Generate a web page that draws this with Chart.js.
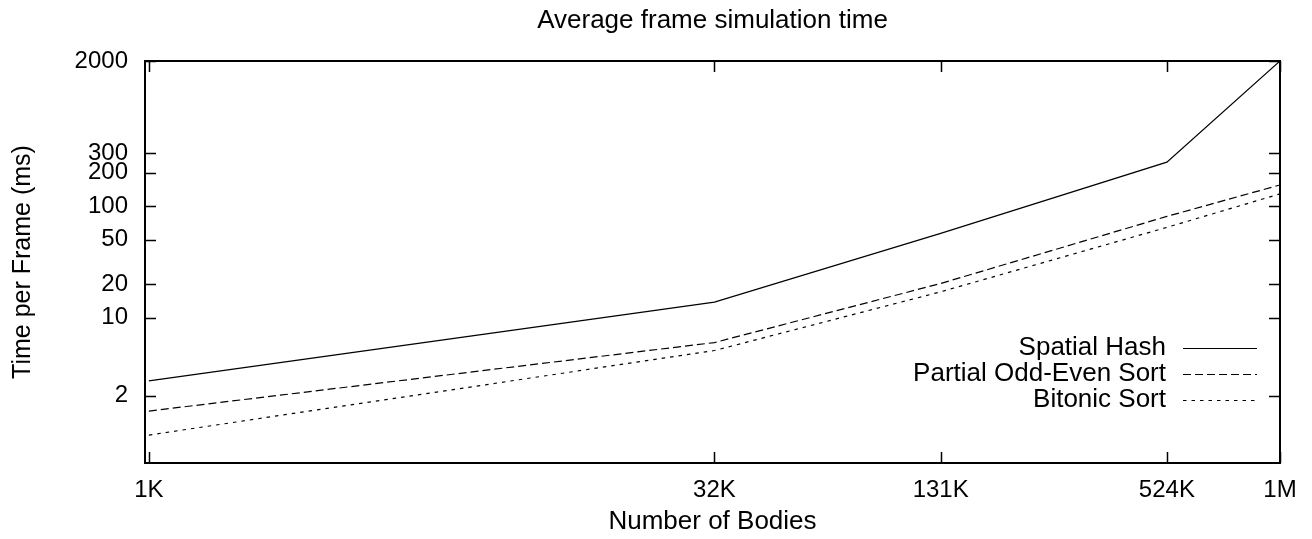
<!DOCTYPE html>
<html>
<head>
<meta charset="utf-8">
<script src="https://cdn.jsdelivr.net/npm/chart.js@4.4.1/dist/chart.umd.min.js"></script>
<style>
  html, body { margin: 0; padding: 0; background: #fff; }
  #wrap { width: 1312px; height: 539px; }
</style>
</head>
<body>
<div id="wrap"><canvas id="c" width="1312" height="539"></canvas></div>
<script>
// ---- data ----
const bodies = [1024, 32768, 131072, 524288, 1048576];
const spatialHash = [2.72, 13.8, 57, 248, 2000];
const partialOddEven = [1.46, 6.0, 20.3, 81, 155];
const bitonicSort = [0.89, 5.09, 17.1, 64.6, 129];
const seriesLabels = ['Spatial Hash', 'Partial Odd-Even Sort', 'Bitonic Sort'];
const xTickValues = [1024, 32768, 131072, 524288, 1048576];
const xTickLabels = ['1K', '32K', '131K', '524K', '1M'];
const yTickValues = [2, 10, 20, 50, 100, 200, 300, 2000];
const yTickLabels = ['2', '10', '20', '50', '100', '200', '300', '2000'];

const FONT = '"Liberation Sans", Arial, Helvetica, sans-serif';

function pts(vals) { return bodies.map((b, i) => ({ x: b, y: vals[i] })); }

const framePlugin = {
  id: 'gnuframe',
  afterDatasetsDraw(chart) {
    const { ctx, chartArea: a, scales: { x, y } } = chart;
    ctx.save();
    ctx.strokeStyle = '#000';
    ctx.lineWidth = 1.5;
    ctx.beginPath();
    x.ticks.forEach(t => {
      const px = Math.round(x.getPixelForValue(t.value)) + 0.5;
      ctx.moveTo(px, a.bottom); ctx.lineTo(px, a.bottom - 11);
      ctx.moveTo(px, a.top); ctx.lineTo(px, a.top + 11);
    });
    y.ticks.forEach(t => {
      const py = Math.round(y.getPixelForValue(t.value)) + 0.5;
      ctx.moveTo(a.left, py); ctx.lineTo(a.left + 11, py);
      ctx.moveTo(a.right, py); ctx.lineTo(a.right - 11, py);
    });
    ctx.stroke();
    ctx.lineWidth = 2;
    ctx.strokeRect(a.left, a.top, a.right - a.left, a.bottom - a.top);

    // legend (gnuplot style: text right-aligned, then sample)
    const textRight = 1166, sx0 = 1183, sx1 = 1257;
    const rowY = [348, 374, 400];
    ctx.font = '26px ' + FONT;
    ctx.fillStyle = '#000';
    ctx.textAlign = 'right';
    ctx.textBaseline = 'middle';
    chart.data.datasets.forEach((ds, i) => {
      const yy = rowY[i];
      ctx.fillText(ds.label, textRight, yy);
      ctx.beginPath();
      ctx.lineWidth = ds.borderWidth;
      ctx.setLineDash(ds.borderDash || []);
      ctx.moveTo(sx0, yy + 0.5); ctx.lineTo(sx1, yy + 0.5);
      ctx.stroke();
    });
    ctx.setLineDash([]);
    ctx.restore();
  }
};

new Chart(document.getElementById('c'), {
  type: 'line',
  data: {
    datasets: [
      { label: seriesLabels[0], data: pts(spatialHash), borderColor: '#000', borderWidth: 1.2, borderDash: [], pointRadius: 0, tension: 0, fill: false },
      { label: seriesLabels[1], data: pts(partialOddEven), borderColor: '#000', borderWidth: 1.2, borderDash: [8, 4], pointRadius: 0, tension: 0, fill: false },
      { label: seriesLabels[2], data: pts(bitonicSort), borderColor: '#000', borderWidth: 1.2, borderDash: [3.5, 5], pointRadius: 0, tension: 0, fill: false }
    ]
  },
  options: {
    responsive: false,
    animation: false,
    devicePixelRatio: 1,
    layout: { padding: { left: 0, right: 32, top: 0, bottom: 0 } },
    plugins: {
      legend: { display: false },
      tooltip: { enabled: false },
      title: {
        display: true,
        fullSize: false,
        text: 'Average frame simulation time',
        color: '#000',
        font: { family: FONT, size: 26, weight: 'normal', lineHeight: 1.2 },
        padding: { top: 5.4, bottom: 24.4 }
      }
    },
    scales: {
      x: {
        type: 'logarithmic',
        position: 'bottom',
        min: 1000,
        max: 1048576,
        afterBuildTicks: s => { s.ticks = xTickValues.map(v => ({ value: v })); },
        afterFit: s => { s.height = 76; },
        grid: { display: false, drawTicks: false },
        border: { display: false },
        ticks: {
          autoSkip: false, maxRotation: 0, padding: 13, color: '#000',
          font: { family: FONT, size: 24, lineHeight: 1.2 },
          callback: (v, i) => xTickLabels[i]
        },
        title: {
          display: true, text: 'Number of Bodies', color: '#000',
          font: { family: FONT, size: 26, lineHeight: 1.2 },
          padding: { top: 0, bottom: 1.5 }
        }
      },
      y: {
        type: 'logarithmic',
        position: 'left',
        min: 0.5,
        max: 2000,
        afterBuildTicks: s => { s.ticks = yTickValues.map(v => ({ value: v })); },
        afterFit: s => { s.width = 145; },
        grid: { display: false, drawTicks: false },
        border: { display: false },
        ticks: {
          autoSkip: false, padding: 17, color: '#000',
          font: { family: FONT, size: 24, lineHeight: 1.2 },
          callback: (v, i) => yTickLabels[i]
        },
        title: {
          display: true, text: 'Time per Frame (ms)', color: '#000',
          font: { family: FONT, size: 25, lineHeight: 1.2 },
          padding: { top: 8, bottom: 0 }
        }
      }
    }
  },
  plugins: [framePlugin]
});
</script>
</body>
</html>
